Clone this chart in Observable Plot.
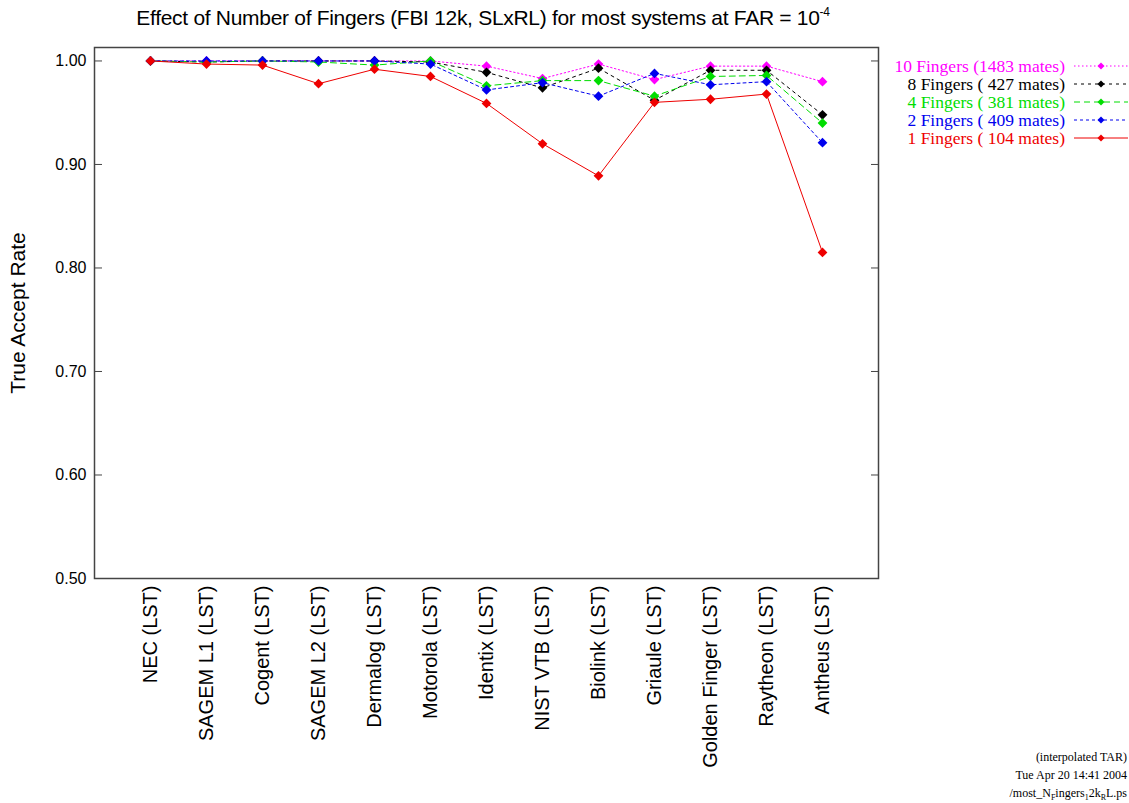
<!DOCTYPE html>
<html>
<head>
<meta charset="utf-8">
<script src="https://cdn.jsdelivr.net/npm/d3@7"></script>
<script src="https://cdn.jsdelivr.net/npm/@observablehq/plot@0.6"></script>
<style>
  html, body { margin: 0; padding: 0; background: #fff; }
  #wrap { position: relative; width: 1129px; height: 803px; overflow: hidden; }
  #title { height: 36px; width: 966px; text-align: center; font-family: "Liberation Sans", Arial, sans-serif; font-size: 21px; line-height: 36px; color: #000; letter-spacing: -0.3px; }
  #title sup { font-size: 12px; vertical-align: 9px; line-height: 0; }
  #legend { position: absolute; top: 57px; right: 0px; font-family: "Liberation Serif", "Times New Roman", serif; font-size: 17.5px; }
  .lrow { display: flex; align-items: center; justify-content: flex-end; height: 18px; }
  .lrow span { white-space: pre; }
  .lrow svg { margin-left: 8px; }
  #foot { position: absolute; right: 2px; top: 748px; font-family: "Liberation Serif", "Times New Roman", serif; font-size: 12px; text-align: right; line-height: 18px; }
</style>
</head>
<body>
<div id="wrap">
  <div id="title">Effect of Number of Fingers (FBI 12k, SLxRL) for most systems at FAR = 10<sup>-4</sup></div>
  <div id="chart"></div>
  <div id="legend"></div>
  <div id="foot"></div>
</div>
<script>
const systems = ["NEC (LST)", "SAGEM L1 (LST)", "Cogent (LST)", "SAGEM L2 (LST)", "Dermalog (LST)", "Motorola (LST)", "Identix (LST)", "NIST VTB (LST)", "Biolink (LST)", "Griaule (LST)", "Golden Finger (LST)", "Raytheon (LST)", "Antheus (LST)"];

const tar10 = [1.000, 1.000, 1.000, 1.000, 1.000, 1.000, 0.995, 0.983, 0.997, 0.982, 0.995, 0.995, 0.980];
const tar8  = [1.000, 0.999, 1.000, 1.000, 1.000, 0.999, 0.989, 0.974, 0.993, 0.962, 0.991, 0.991, 0.948];
const tar4  = [1.000, 0.999, 1.000, 0.999, 0.996, 1.000, 0.976, 0.981, 0.981, 0.966, 0.985, 0.986, 0.940];
const tar2  = [1.000, 1.000, 1.000, 1.000, 1.000, 0.997, 0.972, 0.979, 0.966, 0.988, 0.977, 0.980, 0.921];
const tar1  = [1.000, 0.997, 0.996, 0.978, 0.992, 0.985, 0.959, 0.920, 0.889, 0.960, 0.963, 0.968, 0.815];

const seriesNames = ["10 Fingers (1483 mates)", "8 Fingers ( 427 mates)", "4 Fingers ( 381 mates)", "2 Fingers ( 409 mates)", "1 Fingers ( 104 mates)"];
const seriesValues = [tar10, tar8, tar4, tar2, tar1];
const seriesColors = ["#ff00ff", "#000000", "#00dd00", "#0000ee", "#ee0000"];
const seriesDash = ["1.5,2.5", "3,4", "6,4", "3,3", null];

const yTicks = [0.50, 0.60, 0.70, 0.80, 0.90, 1.00];
const footLines = ["(interpolated TAR)", "Tue Apr 20 14:41 2004", "/most_N<sub style=\"font-size:8px\">F</sub>ingers<sub style=\"font-size:8px\">1</sub>2k<sub style=\"font-size:8px\">R</sub>L.ps"];

const table = seriesNames.map((name, i) => systems.map((s, j) => ({series: name, system: s, tar: seriesValues[i][j]})));

const marks = [];
table.forEach((rows, i) => {
  marks.push(Plot.lineY(rows, {x: "system", y: "tar", stroke: seriesColors[i], strokeWidth: 1, strokeDasharray: seriesDash[i] || undefined}));
});
table.forEach((rows, i) => {
  marks.push(Plot.dot(rows, {x: "system", y: "tar", symbol: "diamond2", r: 4.4, fill: seriesColors[i], stroke: "none"}));
});

const chart = Plot.plot({
  width: 1129,
  height: 767,
  marginLeft: 94,
  marginRight: 251,
  marginTop: 11,
  marginBottom: 225,
  style: {fontFamily: "'Liberation Sans', Arial, sans-serif", fontSize: "16px", color: "#000", background: "#fff"},
  x: {type: "point", domain: systems, padding: 1, label: null},
  y: {domain: [0.5, 1.013], label: null},
  marks: [
    Plot.axisX({tickRotate: -90, tickSize: 0, tickPadding: 7, fontSize: 20, label: null}),
    Plot.axisY({ticks: yTicks, tickFormat: ".2f", tickSize: -8, tickPadding: 16, fontSize: 16, stroke: "#444", label: null}),
    Plot.axisY({anchor: "right", ticks: yTicks, tickSize: -8, tickFormat: () => "", stroke: "#444", label: null}),
    Plot.axisY({ticks: [], tickSize: 0, label: "True Accept Rate", labelAnchor: "center", labelArrow: "none", labelOffset: 84, fontSize: 21}),
    ...marks,
    Plot.frame({stroke: "#444", strokeWidth: 1.5})
  ]
});
document.getElementById("chart").appendChild(chart);

const legend = d3.select("#legend");
seriesNames.forEach((name, i) => {
  const row = legend.append("div").attr("class", "lrow");
  row.append("span").style("color", seriesColors[i]).text(name);
  const s = row.append("svg").attr("width", 56).attr("height", 10);
  s.append("line").attr("x1", 1).attr("x2", 55).attr("y1", 5).attr("y2", 5)
    .attr("stroke", seriesColors[i]).attr("stroke-width", 1)
    .attr("stroke-dasharray", seriesDash[i]);
  s.append("path").attr("d", d3.symbol(d3.symbolDiamond2, 32)()).attr("transform", "translate(28,5)").attr("fill", seriesColors[i]);
});

d3.select("#foot").selectAll("div").data(footLines).join("div").html(d => d);
</script>
</body>
</html>
